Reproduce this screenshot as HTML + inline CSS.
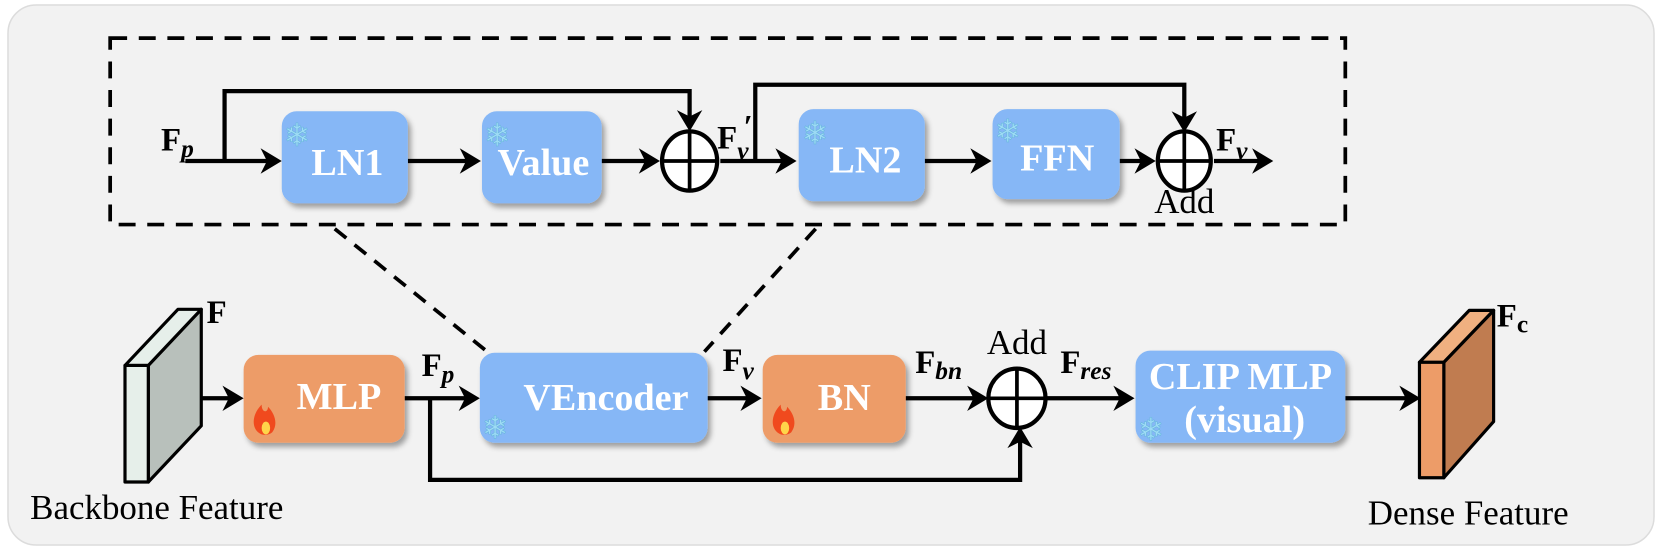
<!DOCTYPE html>
<html><head><meta charset="utf-8"><style>
html,body{margin:0;padding:0;background:#fff;}
svg{display:block;}
.bl{font-family:"Liberation Serif",serif;font-weight:bold;fill:#fff;font-size:36px;text-anchor:middle;}
.lab{font-family:"Liberation Serif",serif;font-weight:bold;fill:#000;font-size:31px;}
.sub{font-family:"Liberation Serif",serif;font-weight:bold;font-style:italic;font-size:24px;}
.cap{font-family:"Liberation Serif",serif;fill:#000;font-size:33px;}
</style></head><body>
<svg width="1661" height="550" viewBox="0 0 1661 550" xmlns="http://www.w3.org/2000/svg">
<defs>
<filter id="sh" x="-10%" y="-10%" width="130%" height="130%"><feDropShadow dx="3" dy="4" stdDeviation="2.5" flood-color="#000" flood-opacity="0.35"/></filter>
</defs>
<rect x="8" y="5" width="1646" height="540" rx="28" fill="#f2f2f2" stroke="#dcdcdc" stroke-width="1.5"/>
<g transform="scale(1.0593)">
<rect x="104" y="36" width="1166" height="176" fill="none" stroke="#000" stroke-width="3.5" stroke-dasharray="16,11"/>
<line x1="316" y1="216" x2="460" y2="332" stroke="#000" stroke-width="3.5" stroke-dasharray="14,10"/>
<line x1="770" y1="216" x2="665" y2="332" stroke="#000" stroke-width="3.5" stroke-dasharray="14,10"/>

<g fill="none" stroke="#000" stroke-width="4">
<path d="M175 152 H262"/>
<path d="M212 152 V86 H651 V118"/>
<path d="M385 152 H450"/>
<path d="M568 152 H618"/>
<path d="M680 152 H748"/>
<path d="M713 152 V80 H1118 V120"/>
<path d="M873 152 H932"/>
<path d="M1057 152 H1086"/>
<path d="M1146 152 H1196"/>
<path d="M190 376 H226"/>
<path d="M382 376 H448"/>
<path d="M406 376 V453 H963 V408"/>
<path d="M668 376 H714"/>
<path d="M855 376 H928"/>
<path d="M988 376 H1066"/>
<path d="M1270 376 H1336"/>
</g>
<g fill="#000">
<path d="M266 152 l-20 -12 l6 12 l-6 12 z"/>
<path d="M454 152 l-20 -12 l6 12 l-6 12 z"/>
<path d="M623 152 l-20 -12 l6 12 l-6 12 z"/>
<path d="M752 152 l-20 -12 l6 12 l-6 12 z"/>
<path d="M936 152 l-20 -12 l6 12 l-6 12 z"/>
<path d="M1091 152 l-20 -12 l6 12 l-6 12 z"/>
<path d="M1202 152 l-20 -12 l6 12 l-6 12 z"/>
<path d="M651 124 l-12 -20 l12 6 l12 -6 z"/>
<path d="M1118 125 l-12 -20 l12 6 l12 -6 z"/>
<path d="M230 376 l-20 -12 l6 12 l-6 12 z"/>
<path d="M453 376 l-20 -12 l6 12 l-6 12 z"/>
<path d="M719 376 l-20 -12 l6 12 l-6 12 z"/>
<path d="M933 376 l-20 -12 l6 12 l-6 12 z"/>
<path d="M1071 376 l-20 -12 l6 12 l-6 12 z"/>
<path d="M1341 376 l-20 -12 l6 12 l-6 12 z"/>
<path d="M963 403 l-12 20 l12 -6 l12 6 z"/>
</g>
<g fill="#fff" stroke="#000" stroke-width="4">
<ellipse cx="651" cy="152" rx="26" ry="28"/>
<ellipse cx="1118" cy="152" rx="25" ry="28"/>
<ellipse cx="960" cy="376" rx="27" ry="28"/>
</g>
<g stroke="#000" stroke-width="3.5">
<path d="M625 152 H677 M651 124 V180"/>
<path d="M1093 152 H1143 M1118 124 V180"/>
<path d="M933 376 H987 M960 348 V404"/>
</g>
<g filter="url(#sh)">
<rect x="266" y="105" width="119" height="87" rx="14" fill="#86b7f6"/>
<rect x="455" y="105" width="113" height="87" rx="14" fill="#86b7f6"/>
<rect x="754" y="103" width="119" height="87" rx="14" fill="#86b7f6"/>
<rect x="937" y="103" width="120" height="85" rx="14" fill="#86b7f6"/>
<rect x="230" y="335" width="152" height="83" rx="14" fill="#ed9c68"/>
<rect x="453" y="333" width="215" height="85" rx="14" fill="#86b7f6"/>
<rect x="720" y="335" width="135" height="83" rx="14" fill="#ed9c68"/>
<rect x="1072" y="331" width="198" height="87" rx="14" fill="#86b7f6"/>
</g>
<text class="bl" x="328" y="165">LN1</text>
<text class="bl" x="513" y="165">Value</text>
<text class="bl" x="817" y="163">LN2</text>
<text class="bl" x="998" y="161">FFN</text>
<text class="bl" x="320" y="386">MLP</text>
<text class="bl" x="572" y="387">VEncoder</text>
<text class="bl" x="797" y="387">BN</text>
<text class="bl" x="1171" y="367">CLIP MLP</text>
<text class="bl" x="1175" y="408">(visual)</text>
<g font-size="30" fill="#9fdcf5" stroke="#6cb8e0" stroke-width="0.6" font-family="DejaVu Sans,sans-serif">
<text x="268" y="138">❄</text><text x="457" y="138">❄</text><text x="757" y="136">❄</text><text x="939" y="134">❄</text>
<text x="455" y="414">❄</text><text x="1074" y="416">❄</text>
</g>
<g>
<path d="M247 410 c-10 -4 -10 -18 0 -28 c0 8 6 8 6 2 c6 6 10 16 4 24 c-2 2 -6 3 -10 2z" fill="#f04a1e"/>
<ellipse cx="251" cy="404" rx="4" ry="6" fill="#ffd54a"/>
<path d="M737 410 c-10 -4 -10 -18 0 -28 c0 8 6 8 6 2 c6 6 10 16 4 24 c-2 2 -6 3 -10 2z" fill="#f04a1e"/>
<ellipse cx="741" cy="404" rx="4" ry="6" fill="#ffd54a"/>
</g>
<g stroke="#000" stroke-width="3" stroke-linejoin="round">
<polygon points="140,345 190,292 190,402 140,455" fill="#b8c0bb"/>
<polygon points="118,345 168,292 190,292 140,345" fill="#e6efea"/>
<rect x="118" y="345" width="22" height="110" fill="#e6efea"/>
<polygon points="1363,342 1410,293 1410,398 1363,451" fill="#c07c50"/>
<polygon points="1340,342 1387,293 1410,293 1363,342" fill="#f0b080"/>
<rect x="1340" y="342" width="23" height="109" fill="#ed9c68"/>
</g>
<text class="lab" x="152" y="142">F<tspan class="sub" dy="6">p</tspan></text>
<text class="lab" x="677" y="140">F<tspan class="sub" dy="10">v</tspan></text>
<text class="lab" x="702" y="130" font-size="24">′</text>
<text class="lab" x="1148" y="142">F<tspan class="sub" dy="8">v</tspan></text>
<text class="cap" x="1118" y="201" text-anchor="middle">Add</text>
<text class="lab" x="195" y="305">F</text>
<text class="lab" x="398" y="355">F<tspan class="sub" dy="6">p</tspan></text>
<text class="lab" x="682" y="350">F<tspan class="sub" dy="8">v</tspan></text>
<text class="lab" x="864" y="352">F<tspan class="sub" dy="6">bn</tspan></text>
<text class="cap" x="960" y="334" text-anchor="middle">Add</text>
<text class="lab" x="1001" y="352">F<tspan class="sub" dy="6">res</tspan></text>
<text class="lab" x="1413" y="308">F<tspan font-size="24" dy="6">c</tspan></text>
<text class="cap" x="148" y="490" text-anchor="middle">Backbone Feature</text>
<text class="cap" x="1386" y="495" text-anchor="middle">Dense Feature</text>
</g>
</svg>
</body></html>
